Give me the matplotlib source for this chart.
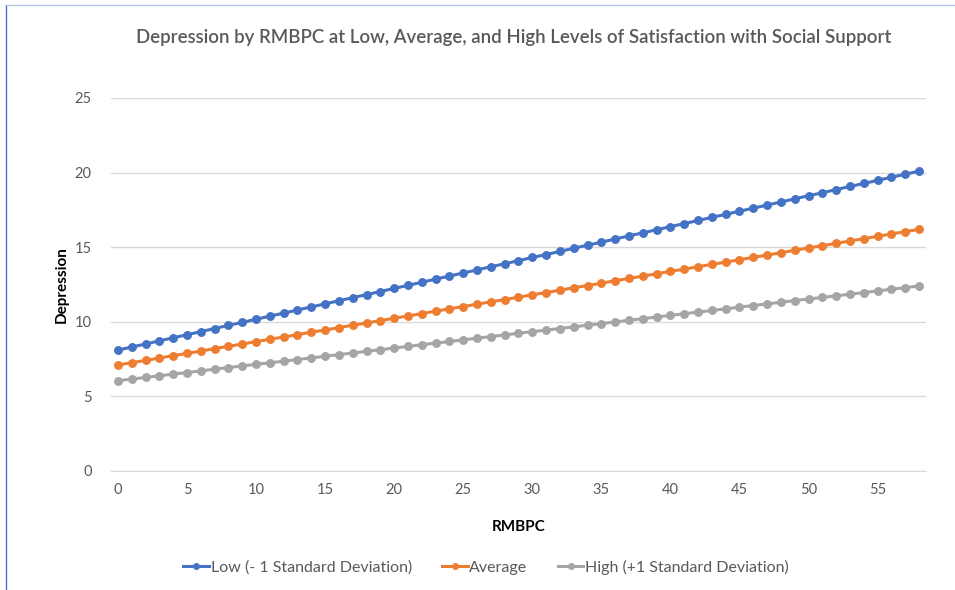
import matplotlib
matplotlib.use('Agg')
from matplotlib import pyplot as plt
from matplotlib.lines import Line2D

plt.rcParams['font.family'] = ['Lato', 'DejaVu Sans']

# RMBPC values (category axis)
rmbpc = list(range(0, 59))

# depression
low = [8.10, 8.31, 8.51, 8.72, 8.93, 9.13, 9.34, 9.55, 9.76, 9.96,
       10.17, 10.38, 10.58, 10.79, 11.00, 11.20, 11.41, 11.62, 11.82, 12.03,
       12.24, 12.44, 12.65, 12.86, 13.07, 13.27, 13.48, 13.69, 13.89, 14.10,
       14.31, 14.51, 14.72, 14.93, 15.13, 15.34, 15.55, 15.76, 15.96, 16.17,
       16.38, 16.58, 16.79, 17.00, 17.20, 17.41, 17.62, 17.82, 18.03, 18.24,
       18.45, 18.65, 18.86, 19.07, 19.27, 19.48, 19.69, 19.89, 20.10]
average = [7.10, 7.26, 7.41, 7.57, 7.73, 7.88, 8.04, 8.20, 8.36, 8.51,
           8.67, 8.83, 8.98, 9.14, 9.30, 9.45, 9.61, 9.77, 9.92, 10.08,
           10.24, 10.39, 10.55, 10.71, 10.87, 11.02, 11.18, 11.34, 11.49, 11.65,
           11.81, 11.96, 12.12, 12.28, 12.43, 12.59, 12.75, 12.91, 13.06, 13.22,
           13.38, 13.53, 13.69, 13.85, 14.00, 14.16, 14.32, 14.47, 14.63, 14.79,
           14.95, 15.10, 15.26, 15.42, 15.57, 15.73, 15.89, 16.04, 16.20]
high = [6.05, 6.16, 6.27, 6.38, 6.49, 6.60, 6.71, 6.82, 6.93, 7.04,
        7.15, 7.25, 7.36, 7.47, 7.58, 7.69, 7.80, 7.91, 8.02, 8.13,
        8.24, 8.35, 8.46, 8.57, 8.68, 8.79, 8.90, 9.01, 9.12, 9.23,
        9.34, 9.44, 9.55, 9.66, 9.77, 9.88, 9.99, 10.10, 10.21, 10.32,
        10.43, 10.54, 10.65, 10.76, 10.87, 10.98, 11.09, 11.20, 11.31, 11.42,
        11.53, 11.63, 11.74, 11.85, 11.96, 12.07, 12.18, 12.29, 12.40]

series_names = ['Low (- 1 Standard Deviation)', 'Average', 'High (+1 Standard Deviation)']
colors = ['#4472C4', '#ED7D31', '#A5A5A5']
x_ticks = list(range(0, 59, 5))
y_ticks = [0, 5, 10, 15, 20, 25]

fig = plt.figure(figsize=(9.55, 5.9), dpi=100)
ax = fig.add_axes([0.1162, 0.2017, 0.9696 - 0.1162, 0.8339 - 0.2017])

for vals, name, c in zip([low, average, high], series_names, colors):
    ax.plot(rmbpc, vals, color=c, lw=2.2, marker='o', ms=5.4, label=name, zorder=3)

ax.set_xlim(-0.5, 58.5)
ax.set_ylim(0, 25)
ax.set_xticks(x_ticks)
ax.set_yticks(y_ticks)
ax.grid(axis='y', color='#D9D9D9', lw=1)
ax.set_axisbelow(True)
for s in ['top', 'right', 'left']:
    ax.spines[s].set_visible(False)
ax.spines['bottom'].set_color('#D9D9D9')
ax.tick_params(length=0, colors='#595959', labelsize=10.5)
ax.tick_params(axis='y', pad=14)
ax.tick_params(axis='x', pad=9)

ax.set_ylabel('Depression', fontsize=11, fontweight='bold', color='black', labelpad=4)
ax.set_xlabel('RMBPC', fontsize=11, fontweight='bold', color='black', labelpad=16)
fig.text(0.538, 0.937, 'Depression by RMBPC at Low, Average, and High Levels of Satisfaction with Social Support',
         ha='center', va='center', fontsize=13.4, fontweight='semibold', color='#595959')

handles = [Line2D([0], [0], color=c, lw=2.2, marker='o', ms=4) for c in colors]
fig.legend(handles, series_names, loc='center', bbox_to_anchor=(0.509, 0.039), ncol=3,
           frameon=False, fontsize=11.5, labelcolor='#595959', handlelength=1.6,
           handletextpad=0.1, columnspacing=1.9)

# thin selection border at top and left
fig.add_artist(Line2D([0.0063, 0.0063], [0, 0.992], color='#4472C4', lw=1, transform=fig.transFigure))
fig.add_artist(Line2D([0.0063, 1], [0.992, 0.992], color='#B4C7E7', lw=1, transform=fig.transFigure))

fig.savefig('out.png', dpi=100)
